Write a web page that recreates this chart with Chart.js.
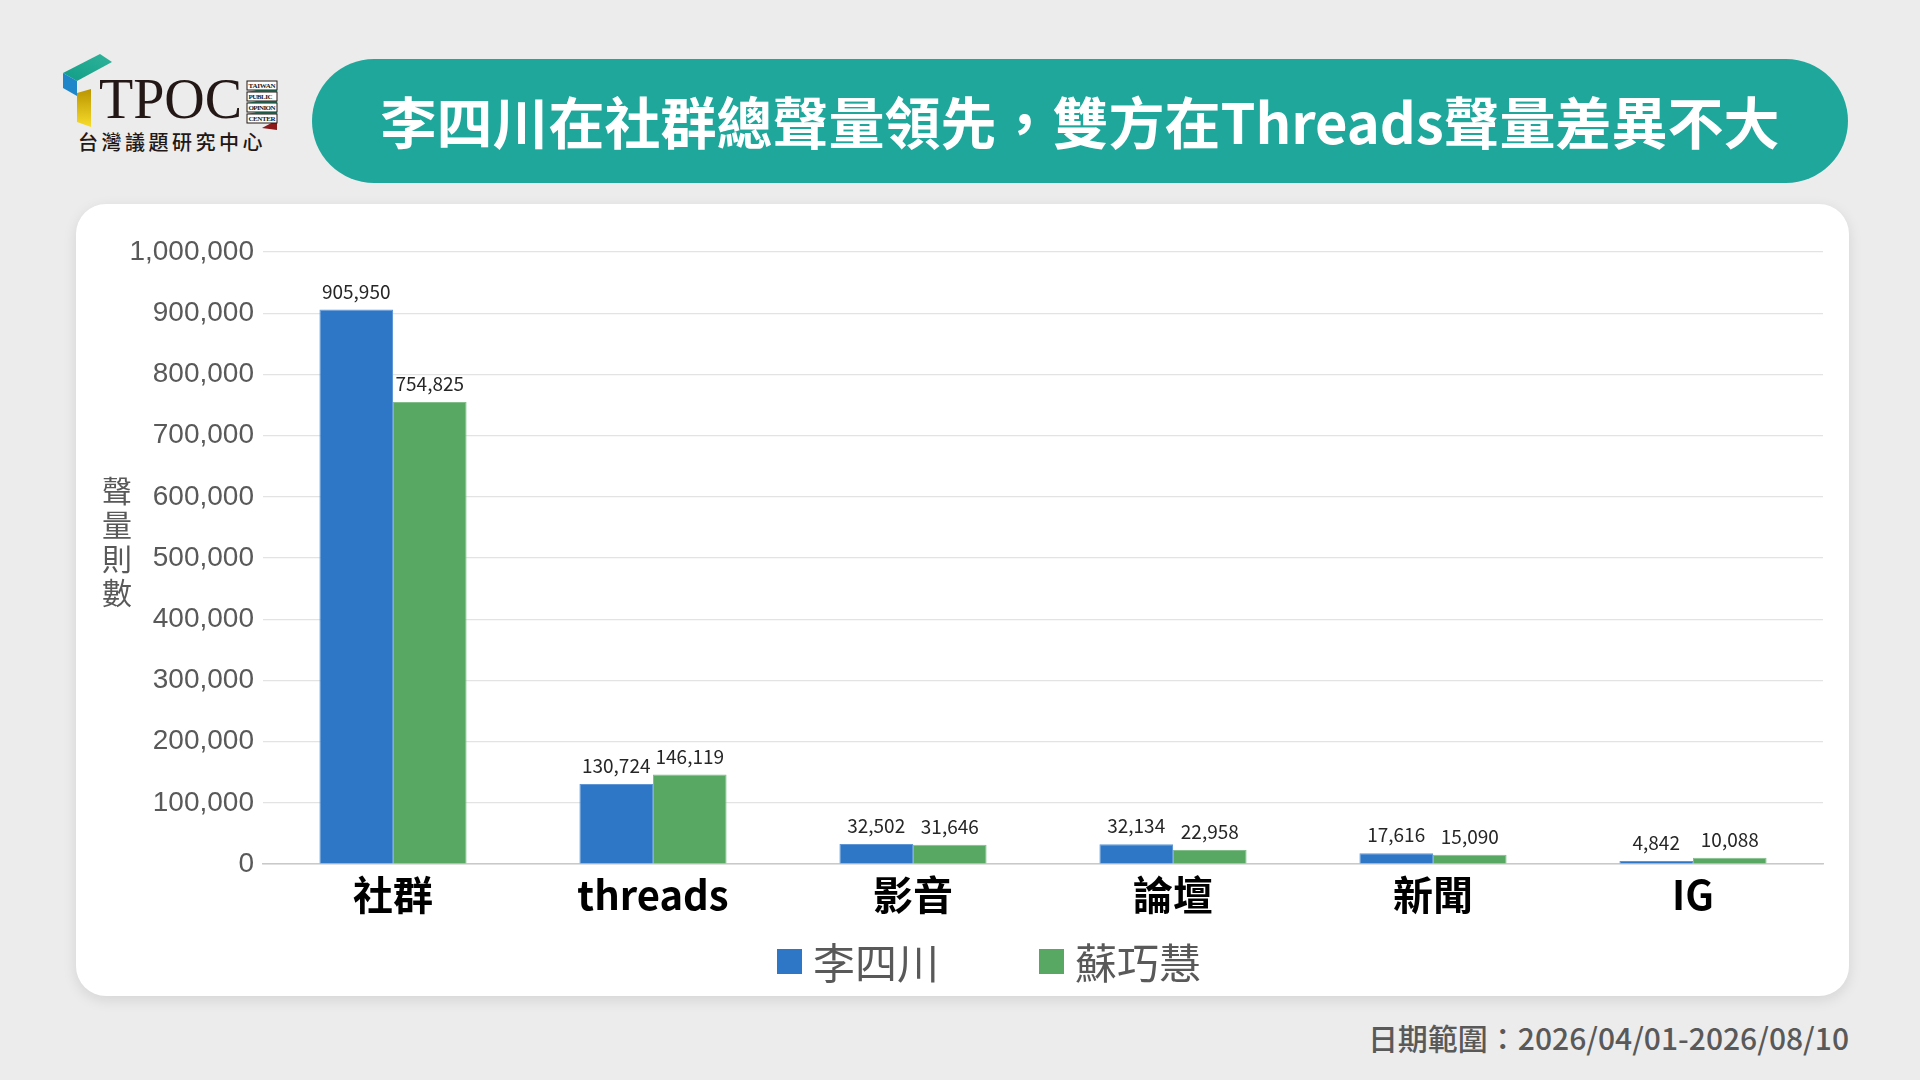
<!DOCTYPE html>
<html>
<head>
<meta charset="utf-8">
<script src="https://cdn.jsdelivr.net/npm/chart.js@4.4.1/dist/chart.umd.min.js"></script>
<style>
  html, body { margin: 0; padding: 0; }
  body { width: 1920px; height: 1080px; background: #ececec; position: relative; overflow: hidden;
         font-family: "Noto Sans CJK TC", "Noto Sans", sans-serif; }
  #logo { position: absolute; left: 0; top: 0; }
  #title { position: absolute; left: 312px; top: 59px; width: 1536px; height: 124px; border-radius: 62px;
           background: #20a79c; color: #fff; font-weight: 700; font-size: 56px; line-height: 122px;
           text-align: center; }
  #card { position: absolute; left: 76px; top: 204px; width: 1773px; height: 792px; background: #fff;
          border-radius: 30px; box-shadow: 0 4px 14px rgba(0,0,0,0.10); }
  #chartWrap { position: absolute; left: 76px; top: 204px; width: 1773px; height: 792px; }
  #ytitle { position: absolute; left: 100px; top: 472px; width: 34px; font-size: 30px; line-height: 34px;
            color: #595959; text-align: center; }
  #legend { position: absolute; left: 777px; top: 934px; display: flex; gap: 100px; }
  #legend .item { display: flex; align-items: center; font-size: 42px; color: #595959; line-height: 54px; }
  #legend .box { width: 25px; height: 25px; margin-right: 11px; }
  #footer { position: absolute; right: 71px; top: 1015px; font-size: 30px; color: #595959; font-weight: 500; }
</style>
</head>
<body>
<svg id="logo" width="300" height="170" viewBox="0 0 300 170">
  <defs>
    <linearGradient id="gTeal" x1="0" y1="1" x2="1" y2="0">
      <stop offset="0" stop-color="#129d86"/><stop offset="1" stop-color="#2fb39b"/>
    </linearGradient>
    <linearGradient id="gYel" x1="0" y1="0" x2="0" y2="1">
      <stop offset="0" stop-color="#b99400"/><stop offset="1" stop-color="#f7dc2a"/>
    </linearGradient>
  </defs>
  <polygon points="63,73 100,54 112,62 77,81" fill="url(#gTeal)"/>
  <polygon points="63,73 77,81 77,96 63,88" fill="#1e86c9"/>
  <polygon points="77,93 91,89 91,127 77,122" fill="url(#gYel)"/>
  <text x="99" y="118" font-family="Liberation Serif" font-size="56" fill="#231815">TPOC</text>
  <g font-family="Liberation Serif" font-size="7" font-weight="bold" fill="#231815">
    <polygon points="247,92 277,86 277,93 247,99" fill="#1e9a7a"/>
    <polygon points="247,103 277,97 277,104 247,110" fill="#1e9a7a"/>
    <polygon points="247,114 277,108 277,115 247,121" fill="#1e9a7a"/>
    <polygon points="262,128 277,120 277,130" fill="#8b1a1a"/>
    <rect x="247" y="81" width="30" height="9" fill="#fff" stroke="#231815" stroke-width="1"/>
    <text x="248.5" y="88" textLength="27">TAIWAN</text>
    <rect x="247" y="92" width="30" height="9" fill="#fff" stroke="#231815" stroke-width="1"/>
    <text x="248.5" y="99" textLength="24">PUBLIC</text>
    <rect x="247" y="103" width="30" height="9" fill="#fff" stroke="#231815" stroke-width="1"/>
    <text x="248.5" y="110" textLength="27">OPINION</text>
    <rect x="247" y="114" width="30" height="9" fill="#fff" stroke="#231815" stroke-width="1"/>
    <text x="248.5" y="121" textLength="27">CENTER</text>
  </g>
  <text x="78" y="150" font-family="Noto Sans CJK TC" font-weight="500" font-size="20" letter-spacing="3.5" fill="#231815">台灣議題研究中心</text>
</svg>

<div id="title">李四川在社群總聲量領先，雙方在Threads聲量差異不大</div>
<div id="card"></div>
<div id="chartWrap"><canvas id="chart" width="1773" height="792"></canvas></div>
<div id="ytitle">聲<br>量<br>則<br>數</div>
<div id="legend"></div>
<div id="footer">日期範圍：2026/04/01-2026/08/10</div>

<script>
// data
const categories = ['社群', 'threads', '影音', '論壇', '新聞', 'IG'];
const seriesNames = ['李四川', '蘇巧慧'];
const liValues = [905950, 130724, 32502, 32134, 17616, 4842];
const suValues = [754825, 146119, 31646, 22958, 15090, 10088];
const yTicks = [0, 100000, 200000, 300000, 400000, 500000, 600000, 700000, 800000, 900000, 1000000];

const colors = ['#2e77c7', '#58a763'];
const borders = ['#5f97d6', '#82bd8a'];

const fmt = v => v.toLocaleString('en-US');

// value labels above each bar
const barLabels = {
  id: 'barLabels',
  afterDatasetsDraw(chart) {
    const ctx = chart.ctx;
    ctx.save();
    ctx.font = '19px "Noto Sans CJK TC"';
    ctx.fillStyle = '#262626';
    ctx.textAlign = 'center';
    ctx.textBaseline = 'alphabetic';
    chart.data.datasets.forEach((ds, i) => {
      chart.getDatasetMeta(i).data.forEach((bar, j) => {
        ctx.fillText(fmt(ds.data[j]), bar.x, bar.y - 11);
      });
    });
    ctx.restore();
  }
};

// html legend built from the chart's datasets
const htmlLegend = {
  id: 'htmlLegend',
  afterUpdate(chart) {
    const box = document.getElementById('legend');
    box.innerHTML = '';
    chart.data.datasets.forEach(ds => {
      const item = document.createElement('div');
      item.className = 'item';
      const sq = document.createElement('span');
      sq.className = 'box';
      sq.style.background = ds.backgroundColor;
      const txt = document.createElement('span');
      txt.textContent = ds.label;
      item.appendChild(sq);
      item.appendChild(txt);
      box.appendChild(item);
    });
  }
};

new Chart(document.getElementById('chart'), {
  type: 'bar',
  data: {
    labels: categories,
    datasets: [
      { label: seriesNames[0], data: liValues, backgroundColor: colors[0], borderColor: borders[0], borderWidth: 1 },
      { label: seriesNames[1], data: suValues, backgroundColor: colors[1], borderColor: borders[1], borderWidth: 1 }
    ]
  },
  options: {
    responsive: false,
    animation: false,
    devicePixelRatio: 1,
    layout: { padding: { left: 0, right: 26, top: 48, bottom: 72 } },
    datasets: { bar: { categoryPercentage: 0.566, barPercentage: 1.0 } },
    plugins: {
      legend: { display: false },
      tooltip: { enabled: false }
    },
    scales: {
      x: {
        grid: { display: false, drawTicks: false },
        border: { display: true, color: '#c9c9c9', width: 1.5 },
        ticks: {
          padding: 7,
          color: '#000',
          font: { family: '"Noto Sans CJK TC"', size: 40, weight: 'bold' }
        },
        afterFit(scale) { scale.height = 60; }
      },
      y: {
        min: 0,
        max: 1000000,
        afterBuildTicks(scale) { scale.ticks = yTicks.map(v => ({ value: v })); },
        grid: { color: '#e3e3e3', lineWidth: 1.2, drawTicks: false },
        border: { display: false },
        ticks: {
          padding: 9,
          color: '#595959',
          font: { family: '"Liberation Sans", Arial', size: 28 },
          callback: v => fmt(v)
        },
        afterFit(scale) { scale.width = 187; }
      }
    }
  },
  plugins: [barLabels, htmlLegend]
});
</script>
</body>
</html>
